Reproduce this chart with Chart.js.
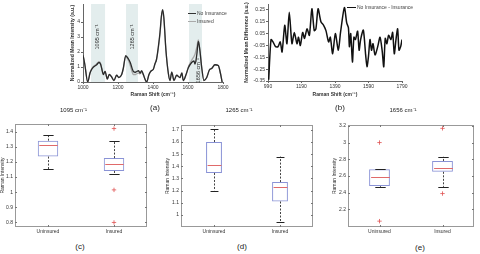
<!DOCTYPE html>
<html>
<head>
<meta charset="utf-8">
<script src="https://cdn.jsdelivr.net/npm/chart.js@4.4.0/dist/chart.umd.min.js"></script>
<style>
body{margin:0;width:480px;height:254px;background:#fff;position:relative;overflow:hidden;font-family:"Liberation Sans",Arial,sans-serif;}
.box{position:absolute;}
.lab{position:absolute;font-size:8px;color:#222;transform:translateX(-50%);line-height:10px;}
.leg{position:absolute;font-size:5px;color:#444;white-space:nowrap;line-height:6px;}
.leg i{display:inline-block;width:8px;height:0;vertical-align:middle;margin-right:1px;}
</style>
</head>
<body>
<div class="box" style="left:70px;top:0;width:165px;height:100px"><canvas id="chartA"></canvas></div>
<div class="box" style="left:244px;top:0;width:170px;height:100px"><canvas id="chartB"></canvas></div>
<div class="box" style="left:0;top:104px;width:155px;height:134px"><canvas id="chartC"></canvas></div>
<div class="box" style="left:165px;top:104px;width:155px;height:134px"><canvas id="chartD"></canvas></div>
<div class="box" style="left:332px;top:104px;width:148px;height:134px"><canvas id="chartE"></canvas></div>

<div class="leg" style="left:188px;top:10px"><i style="border-top:1.3px solid #333"></i>No Insurance</div>
<div class="leg" style="left:188px;top:18px"><i style="border-top:1.2px solid #aaa"></i>Insured</div>
<div class="leg" style="left:347px;top:4px"><i style="border-top:1.5px solid #111;width:9px"></i>No Insurance - Insurance</div>

<div class="lab" style="left:155px;top:103px">(a)</div>
<div class="lab" style="left:340px;top:103px">(b)</div>
<div class="lab" style="left:80px;top:242px">(c)</div>
<div class="lab" style="left:242px;top:242px">(d)</div>
<div class="lab" style="left:420px;top:243px">(e)</div>

<script>
// (a) mean spectra
const aWave = [1000,1010,1027,1040,1050,1060,1078,1091,1100,1107,1116,1126,1139,1150,1163,1177,1192,1205,1221,1230,1244,1259,1270,1288,1300,1307,1318,1326,1335,1345,1354,1364,1377,1390,1402,1411,1420,1430,1440,1448,1455,1462,1474,1488,1497,1507,1520,1535,1554,1565,1573,1589,1602,1621,1634,1640,1650,1659,1668,1678,1691,1707,1722,1735,1754,1773,1785,1795];
const aNoIns = [1.8,1.2,0.0,0.6,0.85,1.0,1.15,1.3,1.2,0.9,0.5,0.7,0.2,0.5,0.35,0.1,0.45,0.3,0.5,0.9,1.75,1.55,1.3,0.7,0.65,0.7,0.75,0.6,0.75,0.5,0.2,0.0,0.5,0.75,0.85,1.2,1.5,2.3,3.3,4.4,4.83,4.3,2.1,0.55,0.1,0.65,0.1,0.45,0.3,0.6,0.1,0.5,0.95,1.3,1.4,1.2,1.8,2.7,2.1,1.0,0.1,0.3,0.8,0.9,1.15,1.1,0.6,0.0];
const aIns = [1.8,1.2,0.0,0.6,0.9,1.05,1.2,1.35,1.25,0.9,0.5,0.7,0.2,0.5,0.35,0.1,0.45,0.3,0.5,0.85,1.7,1.45,1.1,0.5,0.5,0.55,0.6,0.55,0.65,0.45,0.2,0.0,0.5,0.75,0.85,1.2,1.5,2.2,3.2,4.3,4.75,4.2,2.1,0.55,0.1,0.65,0.1,0.45,0.3,0.6,0.1,0.5,1.0,1.45,1.7,1.85,2.3,2.8,2.15,1.0,0.1,0.3,0.8,0.9,1.15,1.1,0.6,0.0];
const aBands = [[1046,1126],[1246,1314],[1606,1680]];
const aBandNames = ['1095 cm\u207B\u00B9','1265 cm\u207B\u00B9','1656 cm\u207B\u00B9'];
const aXTicks = [1000,1200,1400,1600,1800];
const aYTicks = [0,1,2,3,4];

// (b) difference spectrum
const bWave = [994,1008,1020,1035,1050,1063,1074,1090,1103,1117,1133,1147,1163,1172,1183,1197,1208,1223,1237,1252,1266,1276,1289,1306,1322,1336,1352,1362,1376,1392,1410,1423,1446,1460,1470,1476,1484,1494,1503,1512,1525,1534,1543,1559,1573,1581,1590,1599,1608,1617,1629,1645,1659,1672,1681,1690,1700,1710,1724,1734,1744,1754,1764,1772,1782,1790];
const bDiff = [-0.34,0.0,-0.02,-0.06,-0.06,-0.02,-0.105,0.12,-0.035,0.23,-0.035,0.06,-0.035,0.02,-0.05,0.06,0.01,0.09,0.035,0.26,0.075,0.09,0.26,0.15,0.12,0.075,-0.02,0.02,-0.12,0.05,-0.09,0.06,0.27,0.14,0.10,-0.06,0.05,-0.19,0.02,0.0,0.07,-0.09,0.0,0.08,-0.13,-0.23,-0.14,0.0,-0.09,-0.035,-0.13,-0.06,0.02,-0.1,-0.23,0.01,-0.035,0.035,0.0,0.06,-0.12,0.0,0.09,-0.09,-0.06,0.0];
const bXTicks = [990,1190,1390,1590,1790];
const bYTicks = [-0.35,-0.25,-0.15,-0.05,0.05,0.15,0.25];

// box plots
const groups = ['Uninsured','Insured'];

const cQ1 = [1.235,1.14], cMed = [1.31,1.185], cQ3 = [1.34,1.225];
const cLo = [1.15,1.12], cHi = [1.375,1.34];
const cOut = [[],[1.42,1.015,0.80]];
const cYTicks = [0.8,0.9,1,1.1,1.2,1.3,1.4];

const dQ1 = [1.345,1.11], dMed = [1.41,1.23], dQ3 = [1.6,1.27];
const dLo = [1.2,0.94], dHi = [1.71,1.48];
const dOut = [[],[]];
const dYTicks = [1,1.1,1.2,1.3,1.4,1.5,1.6,1.7];

const eQ1 = [2.48,2.65], eMed = [2.59,2.70], eQ3 = [2.68,2.78];
const eLo = [2.47,2.47], eHi = [2.68,2.83];
const eOut = [[3.0,2.06],[3.17,2.39]];
const eYTicks = [2.2,2.4,2.6,2.8,3,3.2];

Chart.defaults.font.family = '"Liberation Sans", Arial, sans-serif';
Chart.defaults.font.size = 5;
Chart.defaults.color = '#333';

function seg(ctx,x0,y0,x1,y1){ ctx.beginPath(); ctx.moveTo(x0,y0); ctx.lineTo(x1,y1); ctx.stroke(); }

function bandsPlugin(ranges, names, labelX, labelY){
  return {
    id:'bands',
    beforeDatasetsDraw(chart){
      const {ctx, chartArea:a, scales:{x}} = chart;
      ctx.save();
      ctx.fillStyle = '#e3eded';
      ranges.forEach(r=>{
        const x0 = x.getPixelForValue(r[0]), x1 = x.getPixelForValue(r[1]);
        ctx.fillRect(x0, a.top, x1-x0, a.height);
      });
      ctx.restore();
    },
    afterDatasetsDraw(chart){
      const {ctx, scales:{x,y}} = chart;
      names.forEach((t,i)=>{
        ctx.save();
        ctx.translate(x.getPixelForValue(labelX[i]), y.getPixelForValue(labelY[i]));
        ctx.rotate(-Math.PI/2);
        ctx.font = '5.5px "Liberation Sans", Arial';
        ctx.fillStyle = '#333';
        ctx.textAlign = 'center';
        ctx.textBaseline = 'middle';
        ctx.fillText(t, 0, 0);
        ctx.restore();
      });
    }
  };
}

function whiskerPlugin(q1, med, q3, lo, hi){
  return {
    id:'whiskers',
    afterDatasetsDraw(chart){
      const {ctx, scales:{x,y}} = chart;
      const bars = chart.getDatasetMeta(0).data;
      ctx.save();
      med.forEach((m,i)=>{
        const cx = Math.round(x.getPixelForValue(i))+0.5;
        const hw = bars[i].width/2;
        ctx.lineWidth = 1;
        ctx.strokeStyle = '#444';
        ctx.setLineDash([2,1.5]);
        if (hi[i] > q3[i]) seg(ctx, cx, y.getPixelForValue(q3[i]), cx, y.getPixelForValue(hi[i]));
        if (lo[i] < q1[i]) seg(ctx, cx, y.getPixelForValue(q1[i]), cx, y.getPixelForValue(lo[i]));
        ctx.setLineDash([]);
        ctx.strokeStyle = '#222';
        [hi[i], lo[i]].forEach(v=>{
          const py = Math.round(y.getPixelForValue(v))+0.5;
          seg(ctx, cx-hw/2, py, cx+hw/2, py);
        });
        ctx.strokeStyle = '#e06a6a';
        const pm = Math.round(y.getPixelForValue(m))+0.5;
        seg(ctx, cx-hw+1, pm, cx+hw-1, pm);
      });
      ctx.restore();
    }
  };
}

const framePlugin = {
  id:'frame',
  afterDraw(chart){
    const {ctx, chartArea:a, scales:{x,y}} = chart;
    ctx.save();
    ctx.strokeStyle = '#999';
    ctx.lineWidth = 1;
    ctx.strokeRect(Math.round(a.left)+0.5, Math.round(a.top)+0.5, Math.round(a.width)-1, Math.round(a.height)-1);
    ctx.strokeStyle = '#777';
    y.ticks.forEach((t,i)=>{
      const py = Math.round(y.getPixelForTick(i))+0.5;
      seg(ctx, a.left, py, a.left+2, py);
      seg(ctx, a.right-2, py, a.right, py);
    });
    x.ticks.forEach((t,i)=>{
      const px = Math.round(x.getPixelForTick(i))+0.5;
      seg(ctx, px, a.bottom, px, a.bottom-2);
      seg(ctx, px, a.top, px, a.top+2);
    });
    ctx.restore();
  }
};

function lineAxes(xTicks, yTicks, xmin, xmax, ymin, ymax, yTitle, yw, xh, fmt){
  return {
    x:{type:'linear', min:xmin, max:xmax,
       afterBuildTicks:s=>{ s.ticks = xTicks.map(v=>({value:v})); },
       grid:{drawOnChartArea:false, tickLength:2, color:'#666'},
       border:{color:'#666'},
       ticks:{autoSkip:false, maxRotation:0, padding:1, callback:v=>String(v)},
       title:{display:true, text:'Raman Shift (cm\u207B\u00B9)', font:{size:5, weight:'bold'}, padding:{top:0,bottom:2}},
       afterFit:s=>{ s.height = xh; }},
    y:{min:ymin, max:ymax,
       afterBuildTicks:s=>{ s.ticks = yTicks.map(v=>({value:v})); },
       grid:{drawOnChartArea:false, tickLength:2, color:'#666'},
       border:{color:'#666'},
       ticks:{padding:1, callback:fmt},
       title:{display:true, text:yTitle, font:{size:5, weight:'bold'}, padding:{top:0,bottom:0}},
       afterFit:s=>{ s.width = yw; }}
  };
}

new Chart(document.getElementById('chartA'), {
  type:'line',
  data:{datasets:[
    {label:'No Insurance', data:aWave.map((w,i)=>({x:w, y:aNoIns[i]})), borderColor:'#2a2a2a', borderWidth:1.3, pointRadius:0, cubicInterpolationMode:'monotone'},
    {label:'Insured', data:aWave.map((w,i)=>({x:w, y:aIns[i]})), borderColor:'#a8a8a8', borderWidth:1.3, pointRadius:0, cubicInterpolationMode:'monotone'}
  ]},
  options:{
    responsive:true, maintainAspectRatio:false, animation:false,
    layout:{padding:{top:0, right:12, left:0, bottom:0}},
    plugins:{legend:{display:false}, tooltip:{enabled:false}},
    scales:lineAxes(aXTicks, aYTicks, 1000, 1800, 0, 5.2, 'Normalized Mean Intensity (a.u.)', 13, 18, v=>String(v))
  },
  plugins:[bandsPlugin(aBands, aBandNames, [1080,1280,1660], [3.0,3.0,0.75])]
});

new Chart(document.getElementById('chartB'), {
  type:'line',
  data:{datasets:[
    {label:'No Insurance - Insurance', data:bWave.map((w,i)=>({x:w, y:bDiff[i]})), borderColor:'#111', borderWidth:1.5, pointRadius:0, tension:0.25}
  ]},
  options:{
    responsive:true, maintainAspectRatio:false, animation:false,
    layout:{padding:{top:4, right:12, left:0, bottom:0}},
    plugins:{legend:{display:false}, tooltip:{enabled:false}},
    scales:lineAxes(bXTicks, bYTicks, 990, 1790, -0.35, 0.3, 'Normalized Mean Difference (a.u.)', 24, 19, v=>v.toFixed(2))
  }
});

function boxChart(id, q1, med, q3, lo, hi, outs, yTicks, ymin, ymax, title, g){
  new Chart(document.getElementById(id), {
    type:'bar',
    data:{labels:groups, datasets:[
      {data:groups.map((c,i)=>[q1[i], q3[i]]), backgroundColor:'rgba(0,0,0,0)', borderColor:'#8a93d6', borderWidth:1, borderSkipped:false, barPercentage:g.bar, categoryPercentage:1},
      {type:'line', data:outs.flatMap((arr,i)=>arr.map(v=>({x:groups[i], y:v}))), showLine:false, pointStyle:'cross', pointRadius:2.2, pointBorderColor:'#e05050', pointBorderWidth:0.8}
    ]},
    options:{
      responsive:true, maintainAspectRatio:false, animation:false,
      layout:{padding:{right:g.right, left:0, top:0, bottom:0}},
      plugins:{
        legend:{display:false}, tooltip:{enabled:false},
        title:{display:true, text:title, font:{size:6, weight:'normal'}, color:'#222', padding:{top:3, bottom:g.gap}}
      },
      scales:{
        x:{grid:{display:false, drawTicks:false}, border:{display:false},
           ticks:{padding:2, color:'#333'}, afterFit:s=>{ s.height = 11; }},
        y:{min:ymin, max:ymax, grid:{display:false, drawTicks:false}, border:{display:false},
           afterBuildTicks:s=>{ s.ticks = yTicks.map(v=>({value:v})); },
           ticks:{padding:2, callback:v=>String(+v.toFixed(2))},
           title:{display:true, text:'Raman Intensity', font:{size:5}, padding:{top:0,bottom:0}},
           afterFit:s=>{ s.width = g.yw; }}
      }
    },
    plugins:[whiskerPlugin(q1, med, q3, lo, hi), framePlugin]
  });
}

boxChart('chartC', cQ1, cMed, cQ3, cLo, cHi, cOut, cYTicks, 0.77, 1.45, '1095 cm\u207B\u00B9', {bar:0.31, right:8, gap:9.8, yw:15});
boxChart('chartD', dQ1, dMed, dQ3, dLo, dHi, dOut, dYTicks, 0.9, 1.74, '1265 cm\u207B\u00B9', {bar:0.24, right:7, gap:10.8, yw:16});
boxChart('chartE', eQ1, eMed, eQ3, eLo, eHi, eOut, eYTicks, 1.99, 3.21, '1656 cm\u207B\u00B9', {bar:0.33, right:6, gap:10.8, yw:16});
</script>
</body>
</html>
